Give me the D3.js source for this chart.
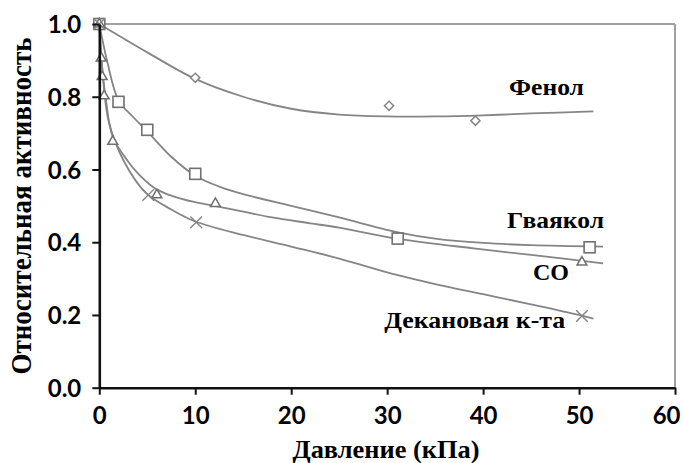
<!DOCTYPE html>
<html>
<head>
<meta charset="utf-8">
<script src="https://cdn.jsdelivr.net/npm/d3@7"></script>
<style>
  body { margin: 0; background: #fff; }
  svg { display: block; }
  .tick text { font-family: Lato, "Open Sans", sans-serif; font-weight: bold; font-size: 24px; fill: #000; }
  .axis-label, .series-label { font-family: "Liberation Serif", "Times New Roman", serif; font-weight: bold; fill: #000; }
</style>
</head>
<body>
<svg id="chart"></svg>
<script>
// Measured points (markers)
const phenolPts   = [[0, 1.0], [10, 0.852], [30.2, 0.775], [39.2, 0.734]];
const guaiacolPts = [[0, 1.0], [2.0, 0.786], [5.0, 0.709], [10.0, 0.588], [31.1, 0.41], [51.1, 0.386]];
const coPts       = [[0, 1.0], [0.2, 0.906], [0.3, 0.855], [0.5, 0.802], [1.4, 0.677], [6.0, 0.53], [12.1, 0.506], [50.3, 0.345]];
const decanoicPts = [[0, 1.0], [5.1, 0.53], [10.1, 0.455], [50.3, 0.197]];

// Fitted curves
const phenolFit   = [[0, 1.0], [5, 0.922], [10, 0.849], [15, 0.800], [20, 0.767], [25, 0.751], [30, 0.746], [35, 0.746], [40, 0.749], [45, 0.754], [51.5, 0.760]];
const guaiacolFit = [[0, 1.0], [0.8, 0.90], [2, 0.79], [3.5, 0.745], [5, 0.705], [7.5, 0.635], [10, 0.583], [12.5, 0.553], [15, 0.532], [20, 0.500], [25, 0.468], [31, 0.428], [35, 0.410], [40, 0.398], [45, 0.392], [52.5, 0.388]];
const coFit       = [[0, 1.0], [0.3, 0.88], [0.7, 0.79], [1.4, 0.69], [3, 0.622], [4, 0.59], [5.6, 0.552], [7, 0.533], [8.5, 0.52], [10, 0.51], [12, 0.5], [15, 0.484], [18, 0.468], [22, 0.452], [25, 0.44], [31, 0.41], [39, 0.383], [45, 0.365], [52.5, 0.342]];
const decanoicFit = [[0, 1.0], [0.5, 0.82], [1, 0.73], [2.5, 0.626], [4.8, 0.537], [7.5, 0.49], [10, 0.457], [15, 0.42], [20, 0.388], [25, 0.355], [31, 0.31], [35, 0.285], [40, 0.257], [45, 0.229], [50, 0.200], [51.5, 0.19]];

// Series labels
const labelNames = ["Фенол", "Гваякол", "CO", "Декановая к-та"];
const labelX = [42.7, 42.5, 45.2, 29.7];
const labelY = [0.805, 0.439, 0.296, 0.164];

const xTicks = [0, 10, 20, 30, 40, 50, 60];
const yTicks = [0, 0.2, 0.4, 0.6, 0.8, 1.0];

const width = 683, height = 463;
const margin = { left: 99.3, right: 683 - 675, top: 24, bottom: 463 - 387.7 };
const innerWidth = width - margin.left - margin.right;
const innerHeight = height - margin.top - margin.bottom;
const lineColor = "#858585";
const markColor = "#707070";
const labelWidths = [75, 97, 36, 181];

const svg = d3.select("#chart")
    .attr("width", width)
    .attr("height", height);

const innerChart = svg.append("g")
    .attr("transform", `translate(${margin.left},${margin.top})`);

const xScale = d3.scaleLinear().domain([0, 60]).range([0, innerWidth]);
const yScale = d3.scaleLinear().domain([0, 1.0]).range([innerHeight, 0]);

// Grey frame on top and right
innerChart.append("line")
    .attr("x1", 0).attr("x2", innerWidth).attr("y1", 0).attr("y2", 0)
    .attr("stroke", "#a0a0a0").attr("stroke-width", 2);
innerChart.append("line")
    .attr("x1", innerWidth).attr("x2", innerWidth).attr("y1", 0).attr("y2", innerHeight)
    .attr("stroke", "#a0a0a0").attr("stroke-width", 2);

// Fitted curves
const line = d3.line()
    .x(d => xScale(d[0]))
    .y(d => yScale(d[1]))
    .curve(d3.curveCatmullRom.alpha(0.5));

[phenolFit, guaiacolFit, coFit, decanoicFit].forEach(fit => {
    innerChart.append("path")
        .attr("d", line(fit))
        .attr("fill", "none")
        .attr("stroke", lineColor)
        .attr("stroke-width", 1.8);
});

// Markers
innerChart.selectAll(".phenol")
    .data(phenolPts)
    .join("path")
    .attr("d", d3.symbol(d3.symbolSquare, 42))
    .attr("transform", d => `translate(${xScale(d[0])},${yScale(d[1])}) rotate(45)`)
    .attr("fill", "white").attr("stroke", lineColor).attr("stroke-width", 1.5);

innerChart.selectAll(".guaiacol")
    .data(guaiacolPts)
    .join("rect")
    .attr("x", d => xScale(d[0]) - 5.5)
    .attr("y", d => yScale(d[1]) - 5.5)
    .attr("width", 11).attr("height", 11)
    .attr("fill", "white").attr("stroke", markColor).attr("stroke-width", 1.6);

innerChart.selectAll(".co")
    .data(coPts)
    .join("path")
    .attr("d", d3.symbol(d3.symbolTriangle2, 70))
    .attr("transform", d => `translate(${xScale(d[0])},${yScale(d[1])})`)
    .attr("fill", "white").attr("stroke", markColor).attr("stroke-width", 1.5);

innerChart.selectAll(".decanoic")
    .data(decanoicPts)
    .join("path")
    .attr("d", d3.symbol(d3.symbolTimes, 90))
    .attr("transform", d => `translate(${xScale(d[0])},${yScale(d[1])})`)
    .attr("fill", "none").attr("stroke", lineColor).attr("stroke-width", 1.4);

// Axes
const bottomAxis = d3.axisBottom(xScale).tickValues(xTicks).tickFormat(d3.format("d"))
    .tickSize(7).tickSizeOuter(0).tickPadding(12);
const xAxisG = innerChart.append("g")
    .attr("transform", `translate(0, ${innerHeight})`)
    .call(bottomAxis);

// keep the last label inside the picture
xAxisG.selectAll(".tick text")
    .filter(d => d === 60)
    .attr("text-anchor", "end")
    .attr("dx", "5");

const leftAxis = d3.axisLeft(yScale).tickValues(yTicks).tickFormat(d3.format(".1f"))
    .tickSize(7).tickSizeOuter(0).tickPadding(11);
const yAxisG = innerChart.append("g")
    .call(leftAxis);

[xAxisG, yAxisG].forEach(g => {
    g.select(".domain").attr("stroke", "#111").attr("stroke-width", 2.6);
    g.selectAll(".tick line").attr("stroke", "#111").attr("stroke-width", 2);
});
yAxisG.selectAll(".tick text").attr("dy", "0.36em");

// Series labels
innerChart.selectAll(".series-label")
    .data(labelNames)
    .join("text")
    .attr("class", "series-label")
    .attr("x", (d, i) => xScale(labelX[i]))
    .attr("y", (d, i) => yScale(labelY[i]))
    .attr("font-size", 23)
    .attr("textLength", (d, i) => labelWidths[i])
    .attr("lengthAdjust", "spacingAndGlyphs")
    .text(d => d);

// Axis labels
svg.append("text")
    .attr("class", "axis-label")
    .attr("x", 386)
    .attr("y", 458)
    .attr("text-anchor", "middle")
    .attr("font-size", 25)
    .attr("textLength", 187)
    .attr("lengthAdjust", "spacingAndGlyphs")
    .text("Давление (кПа)");

svg.append("text")
    .attr("class", "axis-label")
    .attr("transform", "translate(31,206) rotate(-90)")
    .attr("text-anchor", "middle")
    .attr("font-size", 30)
    .attr("textLength", 337)
    .attr("lengthAdjust", "spacingAndGlyphs")
    .text("Относительная активность");
</script>
</body>
</html>
